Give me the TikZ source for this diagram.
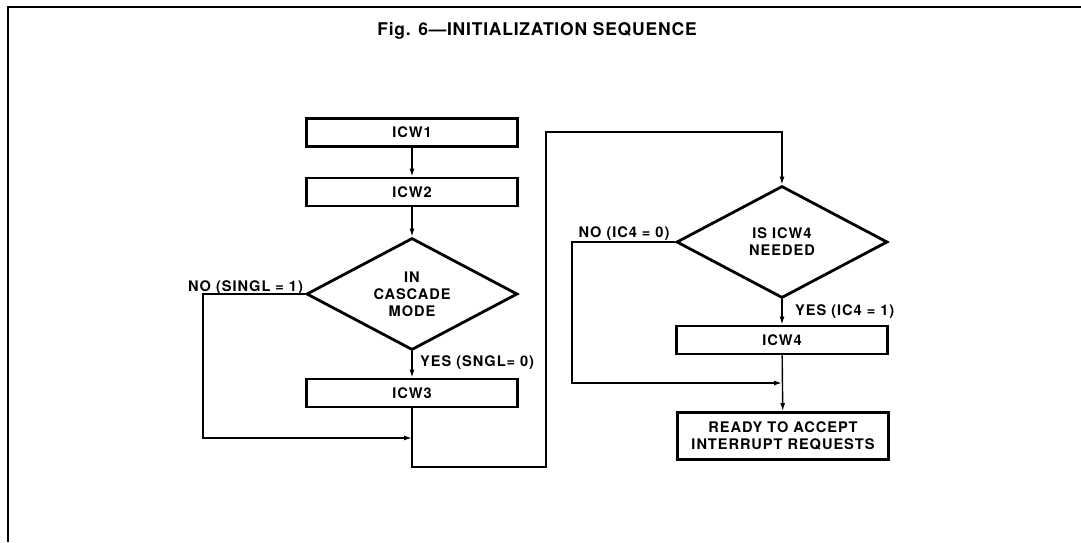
\documentclass[tikz,border=0pt]{standalone}
\usepackage{fontspec}
\setmainfont{TeX Gyre Heros}
\newfontfamily\boxfamily{TeX Gyre Heros}[LetterSpace=6.5]
\newfontfamily\titlefamily{TeX Gyre Heros}[LetterSpace=4.5]
\newcommand{\labelfont}{\boxfamily\bfseries\fontsize{14.6}{17}\selectfont}
\newcommand{\titlefont}{\titlefamily\bfseries\fontsize{17.5}{20}\selectfont}
\usetikzlibrary{shapes.geometric,arrows.meta}
\begin{document}
\begin{tikzpicture}[x=1pt,y=-1pt,
    >={Latex[length=8pt,width=5pt]},
    flow/.style={line width=1.4pt},
    stepbox/.style={draw,line width=2.8pt,minimum width=211pt,minimum height=28pt,inner sep=0pt,font=\labelfont},
    decision/.style={draw,diamond,line width=2.8pt,aspect=1.86,minimum width=211pt,minimum height=112pt,inner sep=0pt,align=center,font=\labelfont},
    tag/.style={inner sep=0pt,font=\labelfont}]
    \useasboundingbox (0,0) rectangle (1081,542);
    %% Frame and title
    \draw[line width=1.2pt] (8,542) -- (8,7) -- (1081,7);
    \node[anchor=base,inner sep=0pt,font=\titlefont] (title) at (537,35) {Fig. 6—INITIALIZATION SEQUENCE};
    %% Left column
    \node[stepbox] (ICW1) at (412,132.5) {ICW1};
    \node[stepbox] (ICW2) at (412,192) {ICW2};
    \node[decision] (D1) at (412,294) {IN\\CASCADE\\MODE};
    \node[stepbox] (ICW3) at (412,393) {ICW3};
    \node[tag,anchor=base east,xshift=-2pt,yshift=2.5pt] (no1) at (D1.west) {NO (SINGL = 1)};
    \node[tag,anchor=base west,xshift=8pt,yshift=-14.6pt] (yes1) at (D1.south) {YES (SNGL= 0)};
    \coordinate (j1) at (412,438);
    \coordinate (loopL) at (546,467);
    \coordinate (loopT) at (782,132);
    %% Right column
    \node[decision] (D2) at (782,242) {IS ICW4\\NEEDED};
    \node[stepbox] (ICW4) at (782,340) {ICW4};
    \node[stepbox,minimum height=47pt,align=center] (READY) at (783,436) {READY TO ACCEPT\\INTERRUPT REQUESTS};
    \node[tag,anchor=base east,xshift=-5.5pt,yshift=4.4pt] (no2) at (D2.west) {NO (IC4 = 0)};
    \node[tag,anchor=base west,xshift=13pt,yshift=-16pt] (yes2) at (D2.south) {YES (IC4 = 1)};
    \coordinate (j2) at (782,383);
    %% Connectors
    \draw[flow,->] (ICW1) -- (ICW2);
    \draw[flow,->] (ICW2) -- (D1);
    \draw[flow,->] (D1) -- (ICW3);
    \draw[flow,->] (D1.west) -- ++(-102,0) |- (j1);
    \draw[flow,->] (ICW3.south) |- (loopL) |- (loopT) -- (D2.north);
    \draw[flow,->] (D2) -- (ICW4);
    \draw[flow,->] (D2.west) -- ++(-103,0) |- (j2);
    \draw[flow,->] (ICW4) -- (READY);
\end{tikzpicture}
\end{document}
